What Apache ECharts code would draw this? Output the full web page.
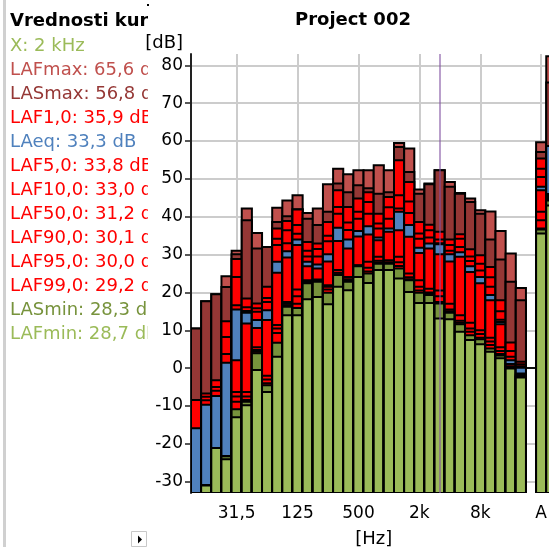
<!DOCTYPE html>
<html>
<head>
<meta charset="utf-8">
<title>Project 002</title>
<script src="https://cdn.jsdelivr.net/npm/echarts@6/dist/echarts.min.js"></script>
<style>
  html, body { margin: 0; padding: 0; background: #fff; overflow: hidden; }
  #chart { width: 549px; height: 547px; }
</style>
</head>
<body>
<div id="chart"></div>
<script>
// 1/3 octave bands, an empty slot, then the broadband A and C values
const bands = ['12,5', '16', '20', '25', '31,5', '40', '50', '63', '80', '100', '125', '160', '200', '250', '315', '400', '500', '630', '800', '1k', '1,25k', '1,6k', '2k', '2,5k', '3,15k', '4k', '5k', '6,3k', '8k', '10k', '12,5k', '16k', '20k', '', 'A', 'C']
const shownBands = ['31,5', '125', '500', '2k', '8k', 'A', 'C']
const cursorBand = '3,15k'

// levels in dB per band (null = empty slot, -40 = below the visible range)
const LAFmax = [10.5, 17.7, 19.5, 24.3, 31.0, 42.2, 35.7, 32.0, 42.4, 44.3, 45.7, 41.0, 42.2, 48.6, 52.7, 51.2, 52.3, 52.3, 53.6, 52.3, 59.5, 58.0, 47.2, 48.8, 52.3, 49.2, 46.3, 44.8, 41.7, 41.4, 36.2, 30.3, 21.2, null, 59.7, 82.4]
const LASmax = [10.5, 17.7, 19.5, 21.4, 30.1, 39.1, 31.6, 32.0, 38.6, 40.1, 42.0, 39.5, 37.8, 41.3, 48.8, 46.5, 48.3, 47.5, 46.1, 46.5, 58.4, 51.8, 46.1, 48.6, 52.3, 47.9, 46.1, 43.9, 40.8, 34.0, 28.7, 22.8, 17.9, null, 57.1, 75.5]
const LAF1 = [-8.4, -6.7, -3.2, 12.4, 28.8, 18.4, 17.1, 21.5, 36.9, 38.9, 41.9, 33.3, 32.9, 38.6, 47.0, 42.6, 44.8, 46.5, 40.8, 45.2, 54.9, 49.2, 38.6, 37.9, 36.0, 34.0, 35.4, 31.4, 29.8, 26.7, 17.9, 6.8, 1.7, null, 55.4, 46.0]
const LAF5 = [-8.4, -7.6, -5.0, 8.2, 24.1, 16.1, 15.8, 18.5, 34.2, 36.4, 37.8, 31.0, 31.5, 35.0, 42.6, 38.5, 41.3, 43.9, 38.2, 42.5, 45.7, 44.0, 35.6, 36.4, 34.0, 32.5, 34.2, 29.5, 27.6, 24.0, 15.0, 4.5, 1.0, null, 52.7, 45.8]
const LAF10 = [-8.4, -8.5, -6.0, 3.7, 16.6, 15.1, 14.9, 17.5, 32.5, 33.0, 35.5, 29.5, 29.5, 33.5, 40.8, 36.5, 39.5, 40.8, 36.9, 39.5, 42.2, 41.0, 34.2, 34.5, 33.0, 31.0, 32.0, 28.3, 25.8, 21.5, 12.8, 3.0, 0.5, null, 50.5, 45.6]
const LAeq = [-15.9, -9.7, -7.4, 1.4, 15.5, 14.6, 12.7, 15.3, 28.1, 30.9, 34.0, 28.1, 27.4, 30.1, 37.1, 34.0, 36.2, 37.5, 34.5, 36.9, 41.3, 37.8, 31.8, 32.9, 32.7, 30.1, 30.6, 26.9, 24.1, 19.3, 12.2, 2.1, 0.1, null, 47.9, 58.7]
const LAF50 = [-40, -31, -21.1, -23.3, 2.1, 11.8, 10.6, 12.7, 25.2, 29.2, 32.5, 26.9, 26.3, 28.2, 33.6, 31.6, 34.8, 35.3, 33.8, 36.0, 36.4, 34.7, 30.4, 31.6, 30.1, 28.2, 29.4, 25.4, 22.4, 17.9, 11.6, 1.1, -1.4, null, 47.0, 45.4]
const LAF90 = [-40, -31, -21.1, -23.3, -6.3, -6.3, 5.5, -2.0, 11.4, 17.5, 20.8, 23.2, 23.4, 21.9, 25.9, 24.1, 27.2, 28.1, 29.4, 28.5, 29.4, 25.0, 23.2, 21.0, 20.5, 17.0, 14.0, 12.0, 10.0, 8.0, 5.5, 0.5, -1.8, null, 41.3, 45.0]
const LAF95 = [-40, -31, -21.1, -23.3, -7.5, -7.5, 4.8, -3.0, 10.5, 17.0, 19.0, 22.9, 23.1, 21.5, 25.2, 23.5, 27.1, 26.5, 28.4, 28.0, 28.0, 24.0, 21.5, 20.0, 19.0, 15.5, 12.5, 10.5, 9.0, 7.0, 4.5, 0.3, -2.0, null, 39.1, 44.8]
const LAF99 = [-40, -31, -21.1, -23.3, -8.9, -8.4, 4.3, -4.0, 9.3, 16.6, 17.0, 22.6, 22.9, 20.8, 24.8, 23.0, 27.0, 25.5, 27.9, 27.8, 27.0, 23.5, 20.5, 19.6, 17.5, 15.0, 12.0, 9.6, 8.0, 6.1, 3.7, 0.2, -2.2, null, 36.9, 44.5]
const LASmin = [-40, -31, -21.1, -23.3, -10.9, -8.9, 3.9, -4.5, 6.7, 16.2, 15.9, 22.4, 22.8, 19.9, 24.6, 22.8, 26.9, 25.0, 27.6, 27.6, 26.3, 23.2, 19.9, 19.3, 17.1, 14.6, 11.6, 8.7, 7.6, 5.2, 3.3, 0.1, -2.3, null, 36.6, 44.3]
const LAFmin = [-40, -31, -21.1, -24.1, -13.0, -9.8, -0.5, -6.3, 3.0, 14.0, 14.0, 18.2, 18.8, 16.9, 21.5, 20.6, 24.1, 22.5, 25.9, 25.9, 23.7, 20.1, 17.2, 17.2, 13.1, 12.9, 9.6, 7.4, 6.3, 4.3, 2.6, -0.1, -2.5, null, 35.6, 43.0]

// cursor readout shown in the side panel
const panelLines = ['X: 2 kHz', 'LAFmax: 65,6 dB', 'LASmax: 56,8 dB', 'LAF1,0: 35,9 dB', 'LAeq: 33,3 dB', 'LAF5,0: 33,8 dB', 'LAF10,0: 33,0 dB', 'LAF50,0: 31,2 dB', 'LAF90,0: 30,1 dB', 'LAF95,0: 30,0 dB', 'LAF99,0: 29,2 dB', 'LASmin: 28,3 dB', 'LAFmin: 28,7 dB']

const lightRed = '#c0504d'
const darkRed = '#953735'
const red = '#ff0000'
const blue = '#4f81bd'
const darkGreen = '#77933c'
const lightGreen = '#9bbb59'

const metrics = [LAFmax, LASmax, LAF1, LAF5, LAF10, LAeq, LAF50, LAF90, LAF95, LAF99, LASmin, LAFmin]
const metricColors = [lightRed, darkRed, red, red, red, blue, red, red, red, red, darkGreen, lightGreen]
const panelColors = [lightGreen, lightRed, darkRed, red, blue, red, red, red, red, red, red, darkGreen, lightGreen]

const yMin = -33
const yMax = 83
const font = 'DejaVu Sans'

// every level is a bar from the bottom of the scale; louder ones are drawn first
const items = []
bands.forEach((b, i) => {
  const level = metrics
    .map((arr, m) => ({ m, v: arr[i] }))
    .filter(d => d.v !== null)
  level.sort((a, b) => (b.v - a.v) || (a.m - b.m))
  level.forEach(d => items.push([i, d.v, d.m]))
})

function renderItem(params, api) {
  const i = api.value(0)
  const v = api.value(1)
  if (v <= yMin) return
  const top = api.coord([i, v])
  const base = api.coord([i, yMin])
  const w = api.size([1, 0])[0]
  return {
    type: 'rect',
    shape: { x: top[0] - w / 2, y: top[1], width: w, height: base[1] - top[1] },
    style: { fill: metricColors[api.value(2)], stroke: '#000', lineWidth: 2 }
  }
}

const isShown = (index, value) => shownBands.includes(value === undefined ? bands[index] : value)

const panel = [
  { type: 'rect', shape: { x: 3, y: 0, width: 3, height: 547 }, style: { fill: '#d0d0d0' }, z: -3 },
  {
    type: 'text', x: 10, y: 21, z: -2,
    style: { text: 'Vrednosti kurzorja', fill: '#000', font: 'bold 18px "' + font + '"', verticalAlign: 'middle' }
  }
]
panelLines.forEach((t, k) => {
  panel.push({
    type: 'text', x: 10, y: 46.5 + 24 * k, z: -2,
    style: { text: t, fill: panelColors[k], font: '18px "' + font + '"', verticalAlign: 'middle' }
  })
})
// the side panel is cut off where the chart begins
panel.push({ type: 'rect', shape: { x: 148, y: 0, width: 42, height: 350 }, style: { fill: '#fff' }, z: -1 })
panel.push({ type: 'rect', shape: { x: 148, y: 0, width: 140, height: 32 }, style: { fill: '#fff' }, z: -1 })
panel.push({ type: 'rect', shape: { x: 147, y: 4, width: 2, height: 2 }, style: { fill: '#000' } })
panel.push({ type: 'rect', shape: { x: 131.5, y: 531.5, width: 15, height: 15 }, style: { fill: '#fff', stroke: '#c8c8c8', lineWidth: 1 } })
panel.push({ type: 'polygon', shape: { points: [[138, 535.5], [138, 543.5], [142, 539.5]] }, style: { fill: '#000' } })

const chart = echarts.init(document.getElementById('chart'))
chart.setOption({
  animation: false,
  backgroundColor: '#fff',
  textStyle: { fontFamily: font },
  title: {
    text: 'Project 002',
    left: 290,
    top: 6,
    textStyle: { fontSize: 18, fontWeight: 'bold', color: '#000', fontFamily: font }
  },
  grid: { left: 191, top: 54, width: 365.4, height: 439, containLabel: false, outerBoundsMode: 'none' },
  xAxis: {
    type: 'category',
    data: bands,
    boundaryGap: true,
    name: '[Hz]',
    nameLocation: 'middle',
    nameGap: 37,
    nameTextStyle: { fontSize: 18, color: '#000', fontFamily: font },
    axisLine: { show: true, lineStyle: { color: '#111', width: 2 } },
    axisTick: { show: true, alignWithLabel: true, interval: isShown, length: 7, lineStyle: { color: '#111', width: 1.5 } },
    axisLabel: { interval: isShown, margin: 12, fontSize: 17, color: '#000', fontFamily: font },
    splitLine: { show: true, alignWithLabel: true, interval: isShown, lineStyle: { color: '#cccccc', width: 2 } }
  },
  yAxis: {
    type: 'value',
    min: yMin,
    max: yMax,
    splitNumber: 12,
    name: '[dB]',
    nameLocation: 'end',
    nameGap: 2,
    nameTextStyle: { fontSize: 18, color: '#000', align: 'right', padding: [0, 8, 0, 0], fontFamily: font },
    axisLine: { show: true, lineStyle: { color: '#222', width: 2 } },
    axisTick: { show: true, length: 6, lineStyle: { color: '#222', width: 1.5 } },
    axisLabel: { fontSize: 17, color: '#000', margin: 8, showMinLabel: false, showMaxLabel: false, fontFamily: font },
    splitLine: { show: true, showMinLine: false, showMaxLine: false, lineStyle: { color: '#cccccc', width: 2 } }
  },
  graphic: panel,
  series: [
    {
      type: 'custom',
      silent: true,
      clip: true,
      encode: { x: 0, y: 1 },
      data: items,
      renderItem,
      markLine: {
        silent: true,
        symbol: 'none',
        label: { show: false },
        lineStyle: { color: 'rgba(128, 80, 160, 0.55)', width: 2, type: 'solid' },
        data: [{ xAxis: cursorBand }]
      }
    }
  ]
})
</script>
</body>
</html>
